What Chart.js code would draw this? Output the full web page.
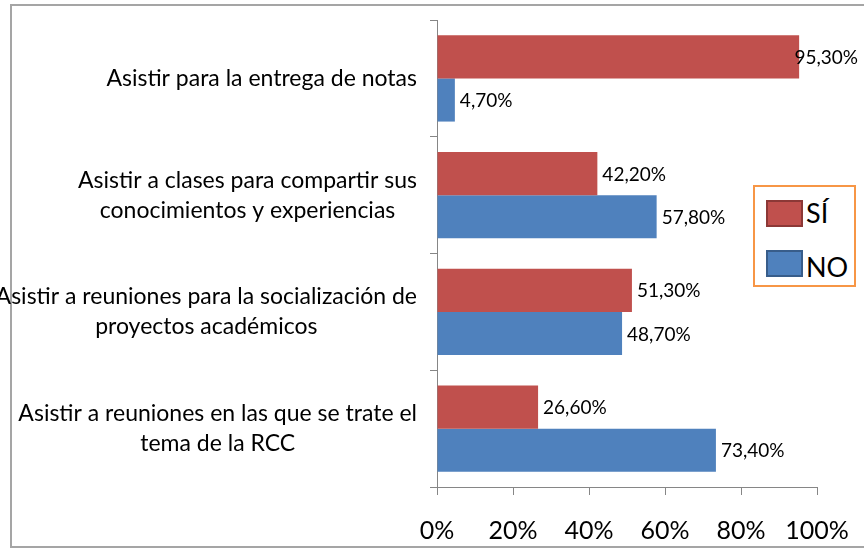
<!DOCTYPE html>
<html lang="es">
<head>
<meta charset="UTF-8">
<title>Participación</title>
<style>
    body { margin: 0; background: #fff; }
    #wrap { position: relative; width: 864px; height: 548px; overflow: hidden; }
    #frame {
        position: absolute; left: 10px; top: 4px; width: 900px; height: 540px;
        border: 2px solid #a5a5a5; border-right: none;
    }
    #chart { position: absolute; left: 0; top: 0; }
    #legend {
        position: absolute; left: 753px; top: 185px; width: 99px; height: 98px;
        border: 2px solid #f79646; background: #fff;
        font-family: Lato, sans-serif; font-size: 27px; color: #000;
    }
    .item { position: absolute; left: 11px; height: 27px; }
    .item span.box {
        position: absolute; left: 0; top: 0; width: 33px; height: 23px; border: 2px solid;
    }
    .item span.txt { position: absolute; left: 40px; top: -2px; line-height: 30px; }
</style>
</head>
<body>
<div id="wrap">
    <div id="frame"></div>
    <canvas id="chart" width="864" height="548"></canvas>
    <div id="legend"></div>
</div>
<script src="https://cdn.jsdelivr.net/npm/chart.js"></script>
<script>
    const categories = [
        ['Asistir para la entrega de notas'],
        ['Asistir a clases para compartir sus', 'conocimientos y experiencias'],
        ['Asistir a reuniones para la socialización de', 'proyectos académicos'],
        ['Asistir a reuniones en las que se trate el', 'tema de la RCC']
    ];
    const siValues = [95.3, 42.2, 51.3, 26.6];
    const noValues = [4.7, 57.8, 48.7, 73.4];
    const xTicks = [0, 20, 40, 60, 80, 100];

    const fmt = v => v.toFixed(2).replace('.', ',') + '%';

    // etiquetas de categoria: cada bloque alineado a la derecha, lineas centradas
    const catLabels = {
        id: 'catLabels',
        afterDraw(chart) {
            const ctx = chart.ctx;
            const y = chart.scales.y;
            ctx.save();
            ctx.font = '23px Lato';
            ctx.fillStyle = '#000';
            ctx.textAlign = 'center';
            ctx.textBaseline = 'middle';
            const right = y.right - 20;
            const lh = 30;
            categories.forEach((lines, i) => {
                const w = Math.max(...lines.map(l => ctx.measureText(l).width));
                const cx = right - w / 2;
                const cy = y.getPixelForValue(i);
                lines.forEach((l, k) => {
                    ctx.fillText(l, cx, cy + (k - (lines.length - 1) / 2) * lh);
                });
            });
            ctx.restore();
        }
    };

    // valores al final de cada barra
    const valueLabels = {
        id: 'valueLabels',
        afterDatasetsDraw(chart) {
            const ctx = chart.ctx;
            ctx.save();
            ctx.font = '19px Lato';
            ctx.fillStyle = '#000';
            ctx.textBaseline = 'middle';
            chart.data.datasets.forEach((ds, di) => {
                chart.getDatasetMeta(di).data.forEach((bar, i) => {
                    const t = fmt(ds.data[i]);
                    const w = ctx.measureText(t).width;
                    const x = Math.min(bar.x + 5, chart.width - 6 - w);
                    ctx.fillText(t, x, bar.y + 1);
                });
            });
            ctx.restore();
        }
    };

    const chart = new Chart(document.getElementById('chart'), {
        type: 'bar',
        data: {
            labels: categories.map(c => c.join(' ')),
            datasets: [
                { label: 'SÍ', data: siValues, backgroundColor: '#c0504d', borderColor: '#8c3836' },
                { label: 'NO', data: noValues, backgroundColor: '#4f81bd', borderColor: '#385d8a' }
            ]
        },
        options: {
            indexAxis: 'y',
            responsive: false,
            animation: false,
            categoryPercentage: 0.74,
            barPercentage: 1,
            layout: { padding: { top: 20, right: 47, left: 0, bottom: 0 } },
            plugins: { legend: { display: false }, tooltip: { enabled: false } },
            scales: {
                x: {
                    min: 0, max: 100,
                    afterBuildTicks: s => { s.ticks = xTicks.map(v => ({ value: v })); },
                    afterFit: s => { s.height = 61; s.paddingLeft = 0; s.paddingRight = 0; },
                    border: { color: '#868686', width: 1 },
                    grid: { drawOnChartArea: false, color: '#868686', tickLength: 8 },
                    ticks: {
                        color: '#000', padding: 21, maxRotation: 0,
                        font: { family: 'Lato', size: 25 },
                        callback: v => v + '%'
                    }
                },
                y: {
                    afterFit: s => { s.width = 437; },
                    border: { color: '#868686', width: 1 },
                    grid: { drawOnChartArea: false, color: '#868686', tickLength: 7, offset: true },
                    ticks: { display: false }
                }
            }
        },
        plugins: [catLabels, valueLabels]
    });

    // leyenda
    const legend = document.getElementById('legend');
    chart.data.datasets.forEach((ds, i) => {
        const it = document.createElement('div');
        it.className = 'item';
        it.style.top = (13 + i * 50) + 'px';
        it.innerHTML = '<span class="box" style="background:' + ds.backgroundColor +
            ';border-color:' + ds.borderColor + '"></span><span class="txt" style="top:' +
            (i ? 2 : -2) + 'px">' + ds.label + '</span>';
        legend.appendChild(it);
    });
</script>
</body>
</html>
